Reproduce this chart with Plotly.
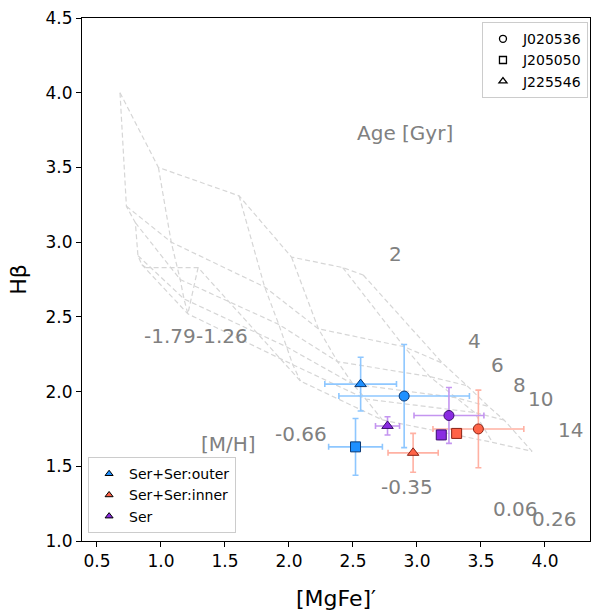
import plotly.graph_objects as go

# ---------------- model grid ----------------
ages = [2, 4, 6, 8, 10, 14]
metals = ["-1.79", "-1.26", "-0.66", "-0.35", "0.06", "0.26"]
# rows: ages, columns: metallicities
grid_mgfe = [
    [0.68, 0.98, 1.61, 2.02, 2.42, 2.58],
    [0.73, 1.08, 1.81, 2.23, 2.90, 3.20],
    [0.80, 1.15, 1.92, 2.38, 3.10, 3.39],
    [0.82, 1.18, 1.98, 2.50, 3.30, 3.56],
    [0.85, 1.21, 2.03, 2.60, 3.45, 3.68],
    [0.88, 1.29, 2.09, 2.73, 3.59, 3.90],
]
grid_hb = [
    [4.00, 3.50, 3.31, 2.90, 2.83, 2.78],
    [3.24, 3.00, 2.70, 2.42, 2.30, 2.19],
    [3.13, 2.75, 2.45, 2.20, 2.10, 2.04],
    [2.91, 2.62, 2.30, 2.05, 1.96, 1.90],
    [2.85, 2.52, 2.18, 1.95, 1.86, 1.81],
    [2.83, 2.83, 2.07, 1.81, 1.66, 1.60],
]

# label positions (text centres)
age_lab_x = [2.836, 3.453, 3.633, 3.805, 3.969, 4.203]
age_lab_y = [2.92, 2.34, 2.18, 2.047, 1.953, 1.74]
met_lab_x = [1.07, 1.48, 2.094, 2.922, 3.766, 4.078]
met_lab_y = [2.373, 2.373, 1.713, 1.36, 1.213, 1.147]

# ---------------- measurements ----------------
galaxies = ["J020536", "J205050", "J225546"]
symbols = ["circle", "square", "triangle-up"]
components = ["Ser+Ser:outer", "Ser+Ser:inner", "Ser"]

outer_mgfe = [2.90, 2.52, 2.56]
outer_hb = [1.97, 1.63, 2.05]
outer_mgfe_err = [0.51, 0.21, 0.28]
outer_hb_err = [0.345, 0.19, 0.18]

inner_mgfe = [3.48, 3.31, 2.97]
inner_hb = [1.75, 1.72, 1.59]
inner_mgfe_err = [0.355, 0.03, 0.196]
inner_hb_err = [0.26, 0.03, 0.13]

ser_mgfe = [3.25, 3.19, 2.77]
ser_hb = [1.84, 1.71, 1.77]
ser_mgfe_err = [0.273, 0.03, 0.094]
ser_hb_err = [0.187, 0.03, 0.061]

comp_data = [
    (outer_mgfe, outer_hb, outer_mgfe_err, outer_hb_err),
    (inner_mgfe, inner_hb, inner_mgfe_err, inner_hb_err),
    (ser_mgfe, ser_hb, ser_mgfe_err, ser_hb_err),
]
fill_colors = ["#1e90ff", "#ff6347", "#8a2be2"]
edge_colors = ["#0c3a75", "#8a2416", "#3b0f6e"]
err_colors = ["#8ec7ff", "#ffb1a3", "#c495f0"]

grid_color = "#d6d6d6"
label_color = "#808080"
lab_size = 20

fig = go.Figure()

# age lines
for i in range(len(ages)):
    fig.add_trace(go.Scatter(x=grid_mgfe[i], y=grid_hb[i], mode="lines",
                             line=dict(color=grid_color, width=1.2, dash="5px,3px"),
                             showlegend=False, hoverinfo="skip"))
# metallicity lines
for j in range(len(metals)):
    fig.add_trace(go.Scatter(x=[r[j] for r in grid_mgfe], y=[r[j] for r in grid_hb],
                             mode="lines",
                             line=dict(color=grid_color, width=1.2, dash="5px,3px"),
                             showlegend=False, hoverinfo="skip"))

# data points
for c, (mx, hy, ex, ey) in enumerate(comp_data):
    for g in range(len(galaxies)):
        fig.add_trace(go.Scatter(
            x=[mx[g]], y=[hy[g]], mode="markers",
            marker=dict(symbol=symbols[g], size=10, color=fill_colors[c],
                        line=dict(color=edge_colors[c], width=1)),
            error_x=dict(type="data", array=[ex[g]], color=err_colors[c],
                         thickness=1.6, width=3),
            error_y=dict(type="data", array=[ey[g]], color=err_colors[c],
                         thickness=1.6, width=3),
            showlegend=False))

# legend 1: galaxies (open black symbols)
for g in range(len(galaxies)):
    fig.add_trace(go.Scatter(x=[None], y=[None], mode="markers", name=galaxies[g],
                             marker=dict(symbol=symbols[g] + "-open", size=7,
                                         color="black", line=dict(width=1.3)),
                             legend="legend"))
# legend 2: components (coloured triangles)
for c in range(len(components)):
    fig.add_trace(go.Scatter(x=[None], y=[None], mode="markers", name=components[c],
                             marker=dict(symbol="triangle-up", size=7, color=fill_colors[c],
                                         line=dict(color="black", width=1)),
                             legend="legend2"))

annotations = []
for k, a in enumerate(ages):
    annotations.append(dict(x=age_lab_x[k], y=age_lab_y[k], text=str(a), showarrow=False,
                            xref="x", yref="y", font=dict(size=lab_size, color=label_color)))
for k, m in enumerate(metals):
    annotations.append(dict(x=met_lab_x[k], y=met_lab_y[k], text=m, showarrow=False,
                            xref="x", yref="y", font=dict(size=lab_size, color=label_color)))
annotations.append(dict(x=2.906, y=3.733, text="Age [Gyr]", showarrow=False,
                        font=dict(size=lab_size, color=label_color)))
annotations.append(dict(x=1.53, y=1.647, text="[M/H]", showarrow=False,
                        font=dict(size=lab_size, color=label_color)))

fig.update_layout(
    width=592, height=612,
    margin=dict(l=82, r=2, t=18, b=71),
    paper_bgcolor="white", plot_bgcolor="white",
    font=dict(family="DejaVu Sans", color="black"),
    annotations=annotations,
    legend=dict(x=0.996, y=0.992, xanchor="right", yanchor="top",
                bgcolor="white", bordercolor="#cccccc", borderwidth=1,
                font=dict(size=14), tracegroupgap=0, itemwidth=30),
    legend2=dict(x=0.012, y=0.015, xanchor="left", yanchor="bottom",
                 bgcolor="white", bordercolor="#cccccc", borderwidth=1,
                 font=dict(size=14), tracegroupgap=0, itemwidth=30),
)
fig.update_xaxes(range=[0.383, 4.352], tickvals=[0.5, 1.0, 1.5, 2.0, 2.5, 3.0, 3.5, 4.0],
                 ticktext=["0.5", "1.0", "1.5", "2.0", "2.5", "3.0", "3.5", "4.0"],
                 ticks="outside", ticklen=5, tickwidth=1, tickcolor="black",
                 showline=True, linecolor="black", linewidth=1, mirror=True,
                 showgrid=False, zeroline=False, tickfont=dict(size=17),
                 title=dict(text="[MgFe]′", font=dict(size=22), standoff=20))
fig.update_yaxes(range=[1.0, 4.5], tickvals=[1.0, 1.5, 2.0, 2.5, 3.0, 3.5, 4.0, 4.5],
                 ticktext=["1.0", "1.5", "2.0", "2.5", "3.0", "3.5", "4.0", "4.5"],
                 ticks="outside", ticklen=5, tickwidth=1, tickcolor="black",
                 showline=True, linecolor="black", linewidth=1, mirror=True,
                 showgrid=False, zeroline=False, tickfont=dict(size=17),
                 title=dict(text="Hβ", font=dict(size=22), standoff=12))

fig.write_html("out.html")
